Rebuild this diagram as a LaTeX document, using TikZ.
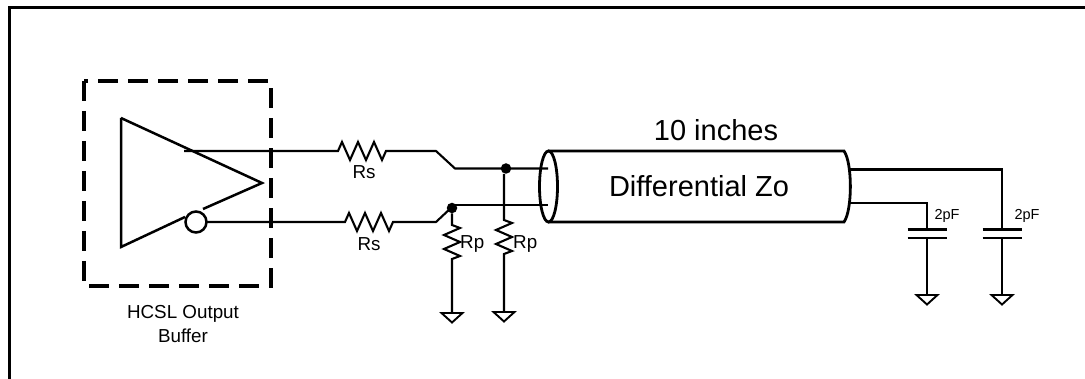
\documentclass[tikz,border=0pt]{standalone}
\usepackage{fontspec}
\setmainfont{Liberation Sans}
\usetikzlibrary{positioning}
\tikzset{
    wire/.style={line width=2.1pt},
    thick wire/.style={line width=2.5pt},
    gnd wire/.style={line width=1.9pt,line join=miter},
    small label/.style={font=\fontsize{18.8}{24}\selectfont,inner sep=0pt},
    tiny label/.style={font=\fontsize{14.5}{16}\selectfont,inner sep=0pt},
    big label/.style={font=\fontsize{29}{32}\selectfont,inner sep=0pt},
    dot/.style={circle,fill=black,inner sep=0pt,minimum size=10.5pt},
}
\newcommand{\hres}{-- ++(4,-9) -- ++(8,18) -- ++(8,-18) -- ++(8,18) -- ++(8,-18) -- ++(8,18) -- ++(4,-9)}
\newcommand{\vres}{-- ++(8,3) -- ++(-16,7) -- ++(16,7) -- ++(-16,7) -- ++(16,7) -- ++(-8,3)}
\newcommand{\gndsym}[1]{\draw[gnd wire] (#1) ++(-10.5,0) -- ++(21,0) -- ++(-10.5,9.5) -- cycle;}
\begin{document}
\begin{tikzpicture}[x=1pt,y=-1pt,>=stealth]
    \useasboundingbox (0,0) rectangle (1085,379);

    % outer frame
    \draw[line width=3pt] (9.5,379) -- (9.5,7.5) -- (1085,7.5);

    % output buffer
    \draw[line width=3.4pt,dash pattern=on 20pt off 10pt] (84,81) rectangle (271,286);
    \node[small label,align=center] (buflabel) at (183,324) {HCSL Output\\Buffer};
    \coordinate (tipA) at (121,118);
    \coordinate (tipB) at (121,247);
    \coordinate (tipC) at (262,183);
    \draw[thick wire] (tipA) -- (tipC) -- (203,209);
    \draw[thick wire] (tipA) -- (tipB) -- (185,217);
    \draw[thick wire] (196,222) circle (10.5);

    % series resistors
    \draw[wire] (184,151) -- (338,151) \hres -- (436,151) -- (455,168.5) -- (548,168.5);
    \draw[wire] (207,222) -- (345,222) \hres -- (436,222) -- (452,207);
    \draw[wire] (452,205) -- (548,205);
    \node[small label] (rsA) at (364,172) {Rs};
    \node[small label] (rsB) at (369,244) {Rs};

    % parallel resistors
    \node[dot] (dotA) at (506,168.5) {};
    \node[dot] (dotB) at (452,208) {};
    \coordinate (gndA) at (504,312);
    \coordinate (gndB) at (452,313);
    \draw[wire] (dotA.south -| gndA) -- (504,220) \vres -- (gndA);
    \draw[wire] (dotB) -- (452,225) \vres -- (gndB);
    \gndsym{gndA}
    \gndsym{gndB}
    \node[small label,anchor=west] (rpA) at (513,244) {Rp};
    \node[small label,anchor=west] (rpB) at (460,244) {Rp};

    % transmission line
    \draw[line width=2.8pt] (548,151) -- (844,151) .. controls (852.5,163) and (852.5,210) .. (844,222) -- (548,222);
    \draw[line width=2.8pt] (548.5,186.5) ellipse (9 and 35.5);
    \node[big label] (zlabel) at (699,186) {Differential Zo};
    \node[big label] (lenlabel) at (716,130) {10 inches};

    % load capacitors
    \coordinate (capA) at (927,229.5);
    \coordinate (capB) at (1002,229.5);
    \draw[wire] (850,203) -- (927,203) -- (capA);
    \draw[wire] (850,169.5) -- (1002,169.5) -- (capB);
    \foreach \capx in {927,1002} {
        \draw[wire] (\capx-19.5,229.5) -- (\capx+19.5,229.5);
        \draw[wire] (\capx-19.5,238) -- (\capx+19.5,238);
        \draw[wire] (\capx,238) -- (\capx,295);
    }
    \coordinate (gndC) at (927,295);
    \coordinate (gndD) at (1002,295);
    \gndsym{gndC}
    \gndsym{gndD}
    \node[tiny label] (capAlabel) at (947,216) {2pF};
    \node[tiny label] (capBlabel) at (1027,216) {2pF};
\end{tikzpicture}
\end{document}
